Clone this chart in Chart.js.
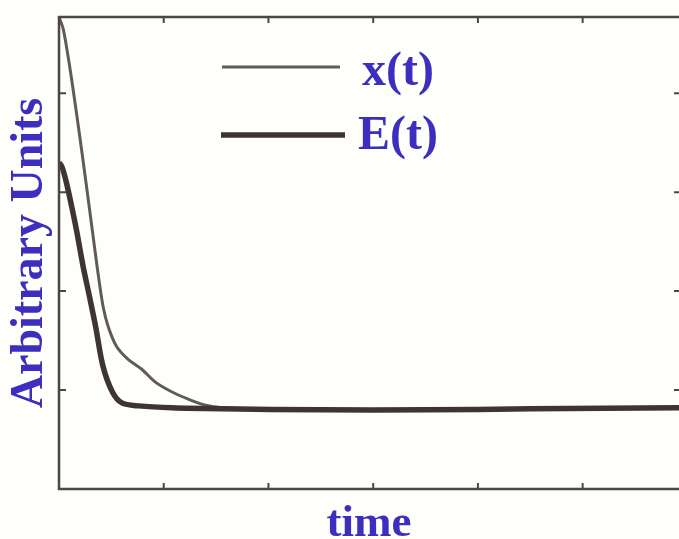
<!DOCTYPE html>
<html>
<head>
<meta charset="utf-8">
<script src="https://cdn.jsdelivr.net/npm/chart.js@4"></script>
<style>
  html, body { margin: 0; padding: 0; background: #fefefb; }
  canvas { display: block; }
</style>
</head>
<body>
<canvas id="chart" width="679" height="539"></canvas>
<script>
// DONNEES
const seriesNames = ['x(t)', 'E(t)'];
const timeX = [0, 0.04, 0.09, 0.14, 0.20, 0.26, 0.32, 0.37, 0.42, 0.47, 0.55, 0.66, 0.79, 0.92, 1.08, 1.23, 1.39, 1.56, 1.87, 2.5, 3.5, 4.5, 5.92];
const valuesX = [4.77, 4.65, 4.35, 4.00, 3.55, 3.08, 2.60, 2.20, 1.85, 1.64, 1.44, 1.31, 1.21, 1.08, 0.98, 0.91, 0.85, 0.82, 0.81, 0.80, 0.80, 0.81, 0.82];
const timeE = [0, 0.03, 0.07, 0.12, 0.17, 0.23, 0.29, 0.35, 0.42, 0.51, 0.60, 0.76, 1.08, 1.56, 2.5, 3.5, 4.5, 5.92];
const valuesE = [3.30, 3.25, 3.10, 2.86, 2.60, 2.25, 1.95, 1.64, 1.24, 0.98, 0.87, 0.84, 0.82, 0.81, 0.80, 0.80, 0.81, 0.82];
const xTicks = [1, 2, 3, 4, 5];
const yTicks = [1, 2, 3, 4];

const BLUE = '#3c2fbf';
const SERIF = '"Liberation Serif", "Times New Roman", serif';

const toPoints = (ts, vs) => ts.map((t, i) => ({ x: t, y: vs[i] }));

// CADRE + GRADUATIONS VERS L'INTERIEUR
const frame = {
    id: 'frame',
    afterDatasetsDraw(chart) {
        const { ctx, chartArea: a, scales: { x, y } } = chart;
        ctx.save();
        ctx.strokeStyle = '#4d4646';
        ctx.lineWidth = 2.5;
        ctx.beginPath();
        ctx.moveTo(a.right, a.top);
        ctx.lineTo(a.left, a.top);
        ctx.lineTo(a.left, a.bottom);
        ctx.lineTo(a.right, a.bottom);
        ctx.stroke();
        ctx.lineWidth = 2;
        ctx.beginPath();
        xTicks.forEach(v => {
            const p = x.getPixelForValue(v);
            ctx.moveTo(p, a.bottom); ctx.lineTo(p, a.bottom - 6);
            ctx.moveTo(p, a.top); ctx.lineTo(p, a.top + 6);
        });
        yTicks.forEach(v => {
            const p = y.getPixelForValue(v);
            ctx.moveTo(a.left, p); ctx.lineTo(a.left + 7, p);
            ctx.moveTo(a.right, p); ctx.lineTo(a.right - 5, p);
        });
        ctx.stroke();
        ctx.restore();
    }
};

// LEGENDE
const legendBox = {
    id: 'legendBox',
    afterDraw(chart) {
        const { ctx, chartArea: a } = chart;
        const rows = [
            { lineY: 50, x0: 163, x1: 281, textX: 303, textY: 68 },
            { lineY: 118, x0: 162, x1: 286, textX: 299, textY: 132 }
        ];
        ctx.save();
        chart.data.datasets.forEach((ds, i) => {
            const r = rows[i];
            ctx.strokeStyle = ds.borderColor;
            ctx.lineWidth = ds.borderWidth;
            ctx.beginPath();
            ctx.moveTo(a.left + r.x0, a.top + r.lineY);
            ctx.lineTo(a.left + r.x1, a.top + r.lineY);
            ctx.stroke();
            ctx.fillStyle = BLUE;
            ctx.font = 'bold 48px ' + SERIF;
            ctx.textBaseline = 'alphabetic';
            ctx.fillText(ds.label, a.left + r.textX, a.top + r.textY);
        });
        ctx.restore();
    }
};

new Chart(document.getElementById('chart'), {
    type: 'line',
    data: {
        datasets: [{
            label: seriesNames[0],
            data: toPoints(timeX, valuesX),
            borderColor: '#625a5a',
            borderWidth: 3,
            pointRadius: 0,
            tension: 0.3,
            order: 1
        }, {
            label: seriesNames[1],
            data: toPoints(timeE, valuesE),
            borderColor: '#3e3434',
            borderWidth: 5.5,
            pointRadius: 0,
            tension: 0.3,
            order: 0
        }]
    },
    options: {
        responsive: false,
        animation: false,
        layout: { padding: { top: 17, right: 0, left: 7, bottom: 0 } },
        plugins: { legend: { display: false }, tooltip: { enabled: false } },
        scales: {
            x: {
                type: 'linear', min: 0, max: 5.92,
                ticks: { display: false },
                grid: { display: false, drawTicks: false },
                border: { display: false },
                title: {
                    display: true, text: 'time', color: BLUE,
                    font: { family: SERIF, size: 45, weight: 'bold', lineHeight: 0.6667 },
                    padding: { top: 20, bottom: 0 }
                }
            },
            y: {
                min: 0, max: 4.77,
                ticks: { display: false },
                grid: { display: false, drawTicks: false },
                border: { display: false },
                title: {
                    display: true, text: 'Arbitrary Units', color: BLUE,
                    font: { family: SERIF, size: 46, weight: 'bold', lineHeight: 1 },
                    padding: { top: 0, bottom: 6 }
                }
            }
        }
    },
    plugins: [frame, legendBox]
});
</script>
</body>
</html>
